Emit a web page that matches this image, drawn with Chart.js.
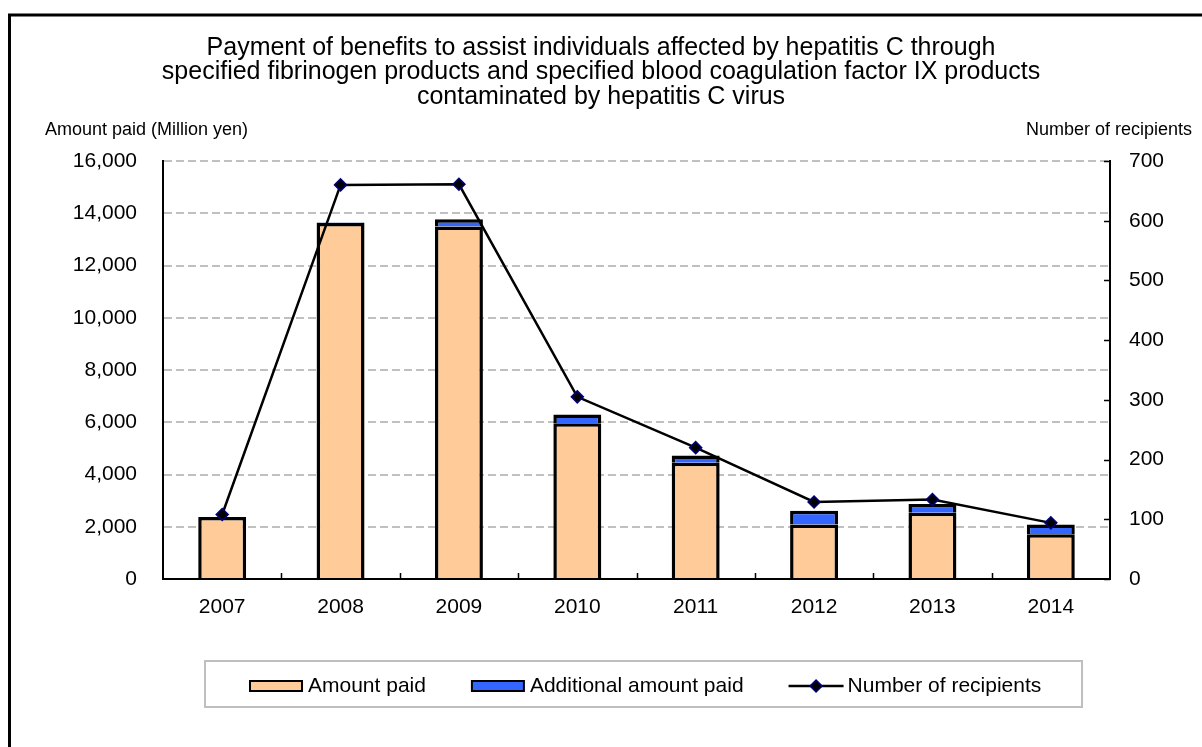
<!DOCTYPE html>
<html>
<head>
<meta charset="utf-8">
<title>Hepatitis C benefits</title>
<script src="https://cdn.jsdelivr.net/npm/chart.js@4.4.1/dist/chart.umd.min.js"></script>
<style>
  body { margin: 0; background: #fff; }
  canvas { display: block; }
</style>
</head>
<body>
<canvas id="benefitsChart" width="1202" height="747"></canvas>
<script>
// data
const years = ['2007', '2008', '2009', '2010', '2011', '2012', '2013', '2014'];
const amountPaid = [2370, 13630, 13490, 5960, 4450, 2090, 2540, 1710];
const additionalPaid = [null, 20, 280, 340, 280, 520, 330, 380];
const recipients = [108, 660, 661, 305, 220, 129, 133, 94];

const FONT = 'Liberation Sans, Arial, sans-serif';
Chart.defaults.font.family = FONT;
Chart.defaults.color = '#000';

// frame around the whole picture + horizontal axis titles
const framePlugin = {
  id: 'frame',
  beforeDraw(chart) {
    const ctx = chart.ctx;
    ctx.save();
    ctx.fillStyle = '#fff';
    ctx.fillRect(0, 0, chart.width, chart.height);
    ctx.strokeStyle = '#000';
    ctx.lineWidth = 3;
    ctx.beginPath();
    ctx.moveTo(9.5, chart.height);
    ctx.lineTo(9.5, 15);
    ctx.lineTo(chart.width, 15);
    ctx.stroke();
    ctx.restore();
  },
  afterDraw(chart) {
    const ctx = chart.ctx;
    ctx.save();
    ctx.font = '18px ' + FONT;
    ctx.fillStyle = '#000';
    ctx.textBaseline = 'middle';
    ctx.textAlign = 'left';
    ctx.fillText('Amount paid (Million yen)', 45, 130);
    ctx.textAlign = 'right';
    ctx.fillText('Number of recipients', 1192, 130);
    ctx.restore();
  }
};

// small inward tick marks on the category axis and the right axis
const innerTicks = {
  id: 'innerTicks',
  afterDraw(chart) {
    const ctx = chart.ctx;
    const x = chart.scales.x, y1 = chart.scales.y1;
    const area = chart.chartArea;
    ctx.save();
    ctx.strokeStyle = '#000';
    ctx.lineWidth = 1.5;
    ctx.beginPath();
    for (let i = 1; i < years.length; i++) {
      const px = Math.round((x.getPixelForTick(i - 1) + x.getPixelForTick(i)) / 2) + 0.5;
      ctx.moveTo(px, area.bottom);
      ctx.lineTo(px, area.bottom - 6);
    }
    y1.ticks.forEach(t => {
      const py = Math.round(y1.getPixelForValue(t.value)) + 0.5;
      ctx.moveTo(area.right, py);
      ctx.lineTo(area.right - 6, py);
    });
    ctx.stroke();
    ctx.restore();
  }
};

// legend in a grey box under the plot
const boxLegend = {
  id: 'boxLegend',
  afterDraw(chart) {
    const ctx = chart.ctx;
    const ds = chart.data.datasets;
    ctx.save();
    ctx.strokeStyle = '#bfbfbf';
    ctx.lineWidth = 2;
    ctx.strokeRect(205, 661, 877, 46);
    ctx.font = '21px ' + FONT;
    ctx.textBaseline = 'middle';
    ctx.textAlign = 'left';
    const cy = 686;
    let x = 249;
    ds.forEach(d => {
      if (d.type === 'line') {
        ctx.strokeStyle = '#000';
        ctx.lineWidth = 2.5;
        ctx.beginPath();
        ctx.moveTo(x, cy);
        ctx.lineTo(x + 55, cy);
        ctx.stroke();
        ctx.beginPath();
        ctx.moveTo(x + 27.5 - 6, cy);
        ctx.lineTo(x + 27.5, cy - 6);
        ctx.lineTo(x + 27.5 + 6, cy);
        ctx.lineTo(x + 27.5, cy + 6);
        ctx.closePath();
        ctx.fillStyle = d.pointBackgroundColor;
        ctx.fill();
        ctx.strokeStyle = d.pointBorderColor;
        ctx.lineWidth = 1.5;
        ctx.stroke();
      } else {
        ctx.fillStyle = '#000';
        ctx.fillRect(x, cy - 6, 54, 12);
        ctx.fillStyle = d.backgroundColor;
        ctx.fillRect(x + 2, cy - 4, 50, 8);
      }
      ctx.fillStyle = '#000';
      ctx.fillText(d.label, x + 59, cy);
      x += 59 + ctx.measureText(d.label).width + 45;
    });
    ctx.restore();
  }
};

new Chart(document.getElementById('benefitsChart'), {
  type: 'bar',
  data: {
    labels: years,
    datasets: [
      {
        label: 'Amount paid',
        data: amountPaid,
        backgroundColor: '#FFCC99',
        borderColor: '#000',
        borderWidth: 3.5,
        borderSkipped: 'bottom',
        yAxisID: 'y',
        order: 1
      },
      {
        label: 'Additional amount paid',
        data: additionalPaid,
        backgroundColor: '#3366FF',
        borderColor: '#000',
        borderWidth: 3.5,
        borderSkipped: 'bottom',
        yAxisID: 'y',
        order: 1
      },
      {
        type: 'line',
        label: 'Number of recipients',
        data: recipients,
        borderColor: '#000',
        borderWidth: 2.5,
        tension: 0,
        pointStyle: 'rectRot',
        pointRadius: 6,
        pointBackgroundColor: '#000',
        pointBorderColor: '#000080',
        pointBorderWidth: 1.5,
        yAxisID: 'y1',
        order: 0
      }
    ]
  },
  options: {
    responsive: false,
    animation: false,
    layout: { padding: { left: 0, right: 0, top: 0, bottom: 120 } },
    datasets: { bar: { barPercentage: 0.405, categoryPercentage: 1 } },
    plugins: {
      legend: { display: false },
      tooltip: { enabled: false },
      title: {
        display: true,
        text: [
          'Payment of benefits to assist individuals affected by hepatitis C through',
          'specified fibrinogen products and specified blood coagulation factor IX products',
          'contaminated by hepatitis C virus'
        ],
        font: { size: 25, weight: 'normal', lineHeight: 0.98 },
        color: '#000',
        padding: { top: 35.5, bottom: 52 }
      }
    },
    scales: {
      x: {
        stacked: true,
        grid: { display: false },
        border: { display: true, color: '#000', width: 2 },
        ticks: { font: { size: 21 }, padding: 8, color: '#000' },
        afterFit(s) { s.height = 48; }
      },
      y: {
        stacked: true,
        position: 'left',
        min: 0,
        max: 16000,
        ticks: {
          stepSize: 2000,
          font: { size: 21 },
          padding: 26,
          color: '#000',
          callback: v => v.toLocaleString('en-US')
        },
        grid: { color: '#c0c0c0', lineWidth: 2, drawTicks: false },
        border: { display: true, color: '#000', width: 2, dash: [8, 4] },
        afterFit(s) { s.width = 163; }
      },
      y1: {
        position: 'right',
        min: 0,
        max: 700,
        ticks: { stepSize: 100, font: { size: 21 }, padding: 19, color: '#000' },
        grid: { drawOnChartArea: false, drawTicks: false },
        border: { display: true, color: '#000', width: 2 },
        afterFit(s) { s.width = 92; }
      }
    }
  },
  plugins: [framePlugin, innerTicks, boxLegend]
});
</script>
</body>
</html>
